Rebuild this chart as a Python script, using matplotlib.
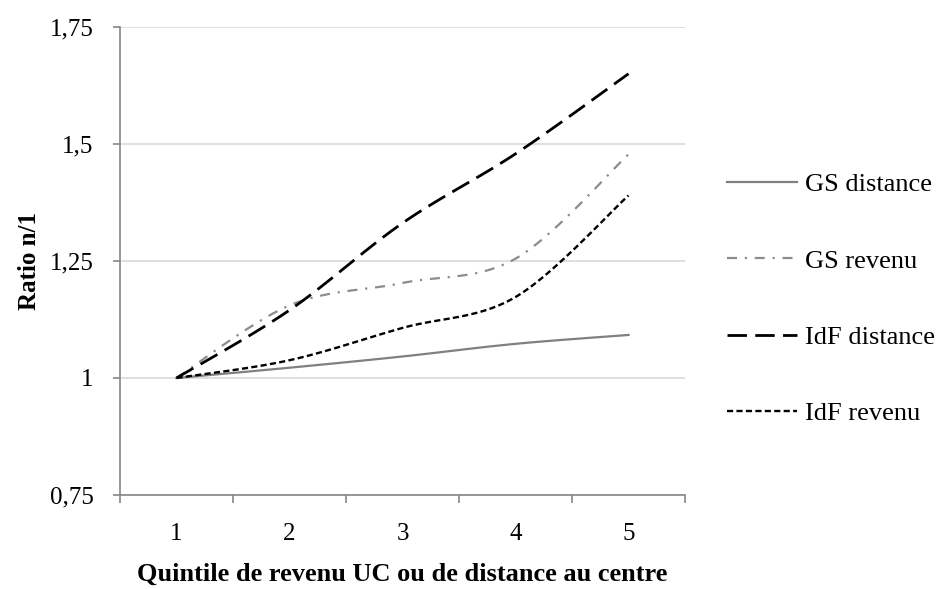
import numpy as np
import matplotlib
matplotlib.use("Agg")
import matplotlib.pyplot as plt

plt.rcParams['font.family'] = ['Liberation Serif', 'DejaVu Serif']

quintiles = [1, 2, 3, 4, 5]
gs_distance = [1.0, 1.022, 1.046, 1.073, 1.092]
gs_revenu = [1.0, 1.155, 1.203, 1.255, 1.478]
idf_distance = [1.0, 1.145, 1.331, 1.479, 1.65]
idf_revenu = [1.0, 1.038, 1.107, 1.173, 1.39]
series_names = ['GS distance', 'GS revenu', 'IdF distance', 'IdF revenu']
y_ticks = [0.75, 1.0, 1.25, 1.5, 1.75]
y_ticklabels = ['0,75', '1', '1,25', '1,5', '1,75']


def smooth(x, y, n=30):
    # bezier smoothing like the spreadsheet "smoothed line" option
    x = np.asarray(x, float)
    y = np.asarray(y, float)
    px = np.concatenate([[x[0]], x, [x[-1]]])
    py = np.concatenate([[y[0]], y, [y[-1]]])
    xs, ys = [], []
    t = np.linspace(0, 1, n)
    for i in range(1, len(px) - 2):
        p0 = np.array([px[i], py[i]])
        p3 = np.array([px[i + 1], py[i + 1]])
        p1 = p0 + (np.array([px[i + 1], py[i + 1]]) - np.array([px[i - 1], py[i - 1]])) / 6
        p2 = p3 - (np.array([px[i + 2], py[i + 2]]) - np.array([px[i], py[i]])) / 6
        b = ((1 - t) ** 3)[:, None] * p0 + (3 * (1 - t) ** 2 * t)[:, None] * p1 \
            + (3 * (1 - t) * t ** 2)[:, None] * p2 + (t ** 3)[:, None] * p3
        xs.extend(b[:, 0])
        ys.extend(b[:, 1])
    return xs, ys


fig = plt.figure(figsize=(9.48, 5.89), dpi=100)
ax = fig.add_axes([120 / 948, 1 - 495 / 589, 565 / 948, 468 / 589])

styles = [
    dict(color='#808080', lw=1.6, linestyle='-'),
    dict(color='#8c8c8c', lw=1.6, dashes=(4.5, 3.5, 1, 3.5)),
    dict(color='black', lw=2.0, dashes=(7, 3)),
    dict(color='black', lw=1.7, dashes=(2.6, 1.4)),
]
for vals, name, st in zip([gs_distance, gs_revenu, idf_distance, idf_revenu], series_names, styles):
    xs, ys = smooth(quintiles, vals)
    ax.plot(xs, ys, label=name, **st)

ax.set_xlim(0.5, 5.5)
ax.set_ylim(0.75, 1.75)
ax.set_yticks(y_ticks)
ax.set_yticklabels(y_ticklabels)
ax.set_xticks(quintiles)
ax.set_xticks(np.arange(0.5, 6.0, 1.0), minor=True)
ax.grid(axis='y', color='#d9d9d9', lw=1.2)
ax.set_axisbelow(True)
for s in ['top', 'right']:
    ax.spines[s].set_visible(False)
for s in ['left', 'bottom']:
    ax.spines[s].set_color('#868686')
    ax.spines[s].set_linewidth(1.2)
ax.tick_params(axis='y', length=5, width=1.2, color='#868686', pad=14, labelsize=18)
ax.tick_params(axis='x', which='major', length=0, pad=20, labelsize=18)
ax.tick_params(axis='x', which='minor', length=6, width=1.2, color='#868686')

ax.set_ylabel('Ratio n/1', fontsize=18, fontweight='bold', labelpad=6)
ax.set_xlabel('Quintile de revenu UC ou de distance au centre', fontsize=19,
              fontweight='bold', labelpad=13)

fig.legend(loc='center left', bbox_to_anchor=(727 / 948, 1 - 299 / 589), frameon=False,
           borderpad=0, borderaxespad=0, fontsize=19, handlelength=2.65,
           handletextpad=0.3, labelspacing=2.0)

fig.savefig('out.png', dpi=100)
